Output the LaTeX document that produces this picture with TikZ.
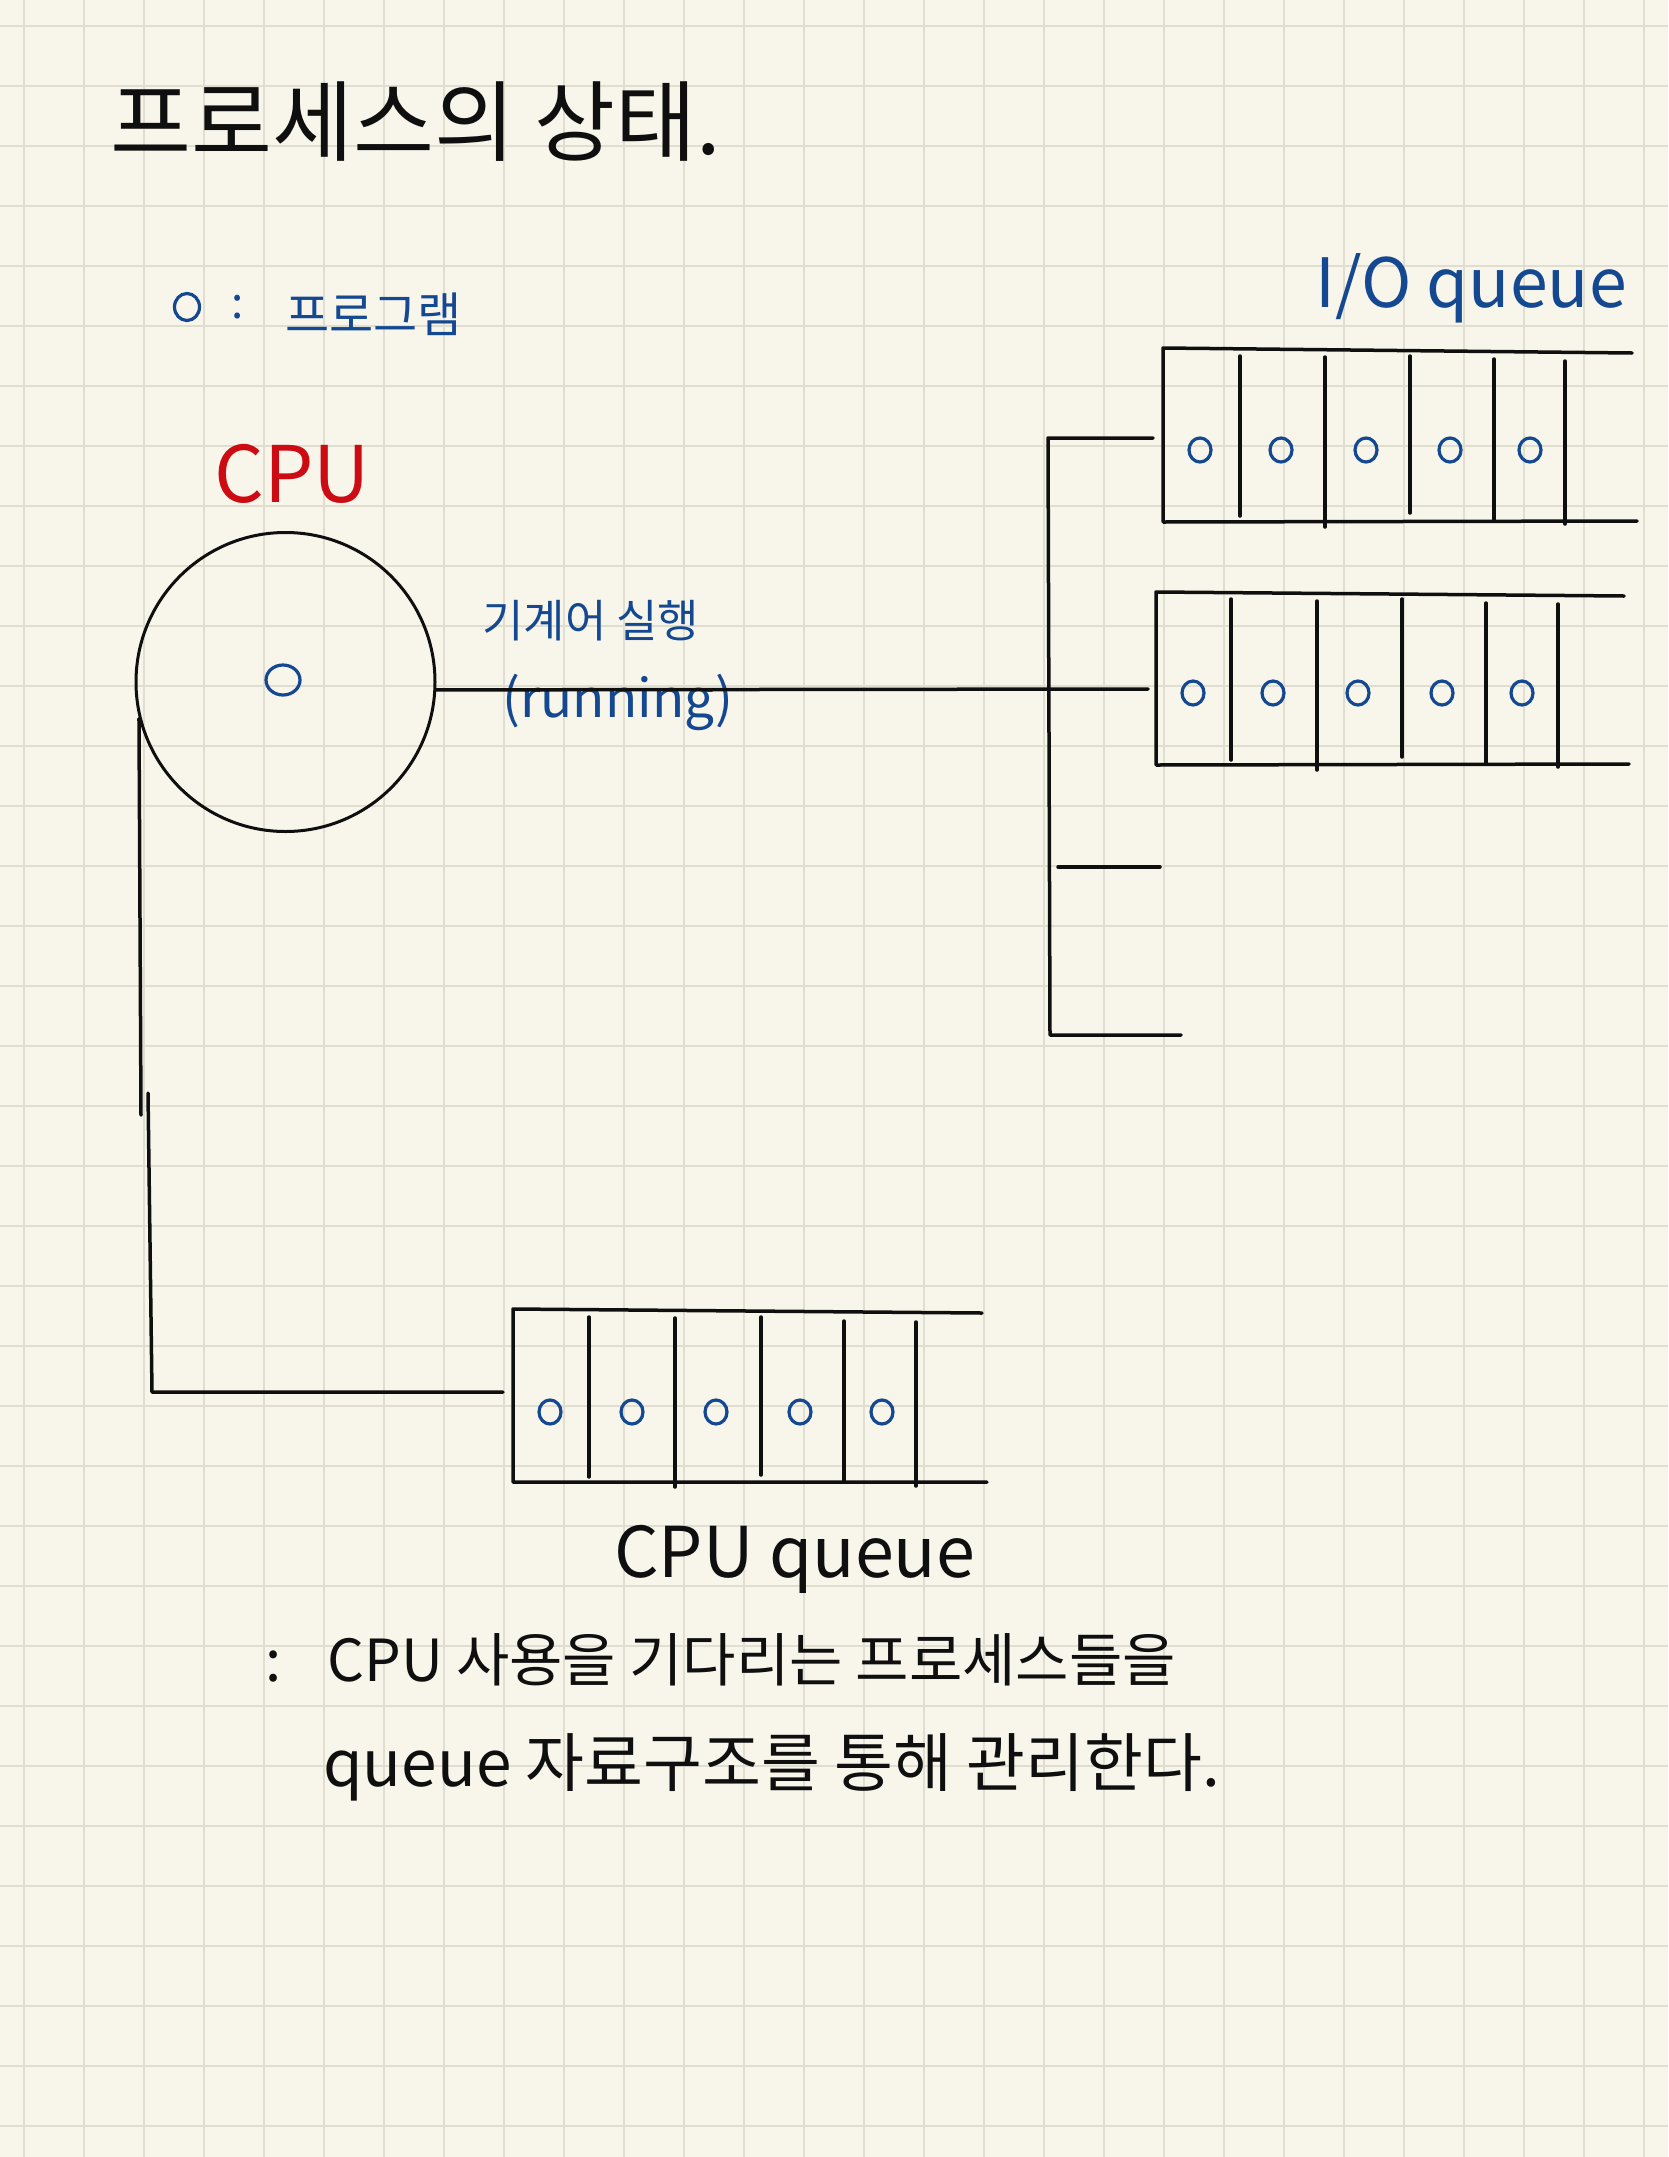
\documentclass[tikz,border=0pt]{standalone}
\usepackage{fontspec}
\setmainfont{Noto Sans CJK KR}
\usetikzlibrary{shapes.geometric}
\definecolor{paper}{RGB}{248,246,235}
\definecolor{gridc}{RGB}{224,221,209}
\definecolor{ink}{RGB}{15,15,15}
\definecolor{pen}{RGB}{20,72,145}
\definecolor{redpen}{RGB}{204,12,18}
\newcommand{\fs}[1]{\fontsize{#1pt}{#1pt}\selectfont}
\begin{document}
\begin{tikzpicture}[x=1pt,y=-1pt,line cap=round,line join=round,
  ln/.style={draw=ink,line width=3.5pt},
  proc/.style={ellipse,draw=pen,line width=3.2pt,minimum width=22pt,minimum height=24pt,inner sep=0pt},
  txt/.style={inner sep=0pt,anchor=west},
  btxt/.style={inner sep=0pt,anchor=base west}]
\fill[paper] (0,0) rectangle (1668,2157);
\useasboundingbox (0,0) rectangle (1668,2157);
\foreach \i in {0,...,27} \draw[gridc,line width=2pt,line cap=butt] ({24+60*\i},0) -- ({24+60*\i},2157);
\foreach \i in {0,...,35} \draw[gridc,line width=2pt,line cap=butt] (0,{26+60*\i}) -- (1668,{26+60*\i});

% title and legend
\node[txt,text=ink,font=\fs{88}] (title) at (110,122) {프로세스의 상태.};
\node[proc,minimum width=25pt,minimum height=27pt] (leg) at (187,307) {};
\node[inner sep=0pt,text=pen,font=\fs{44}] (colon) at (238,307) {:};
\node[txt,text=pen,font=\fs{48}] (legt) at (285,314) {프로그램};

% CPU
\node[inner sep=0pt,text=redpen,font=\fs{78}] (cpulab) at (292,474) {CPU};
\node[circle,draw=ink,line width=3pt,minimum size=299pt,inner sep=0pt] (cpu) at (285.5,682) {};
\node[proc,minimum width=34pt,minimum height=30pt] (cur) at (283,680) {};
\node[txt,text=pen,font=\fs{45}] (runk) at (482,621) {기계어 실행};
\node[btxt,text=pen,font=\fs{53}] (rune) at (502,717) {(running)};

% I/O queue label
\node[btxt,text=pen,font=\fs{68}] (iolab) at (1315,307) {I/O queue};

% I/O queue 1
\draw[ln] (1632,353) -- (1163,348) -- (1163,522) -- (1637,521);
\draw[ln] (1240,356) -- (1240,516) (1325,357) -- (1325,527) (1410,356) -- (1410,513)
          (1494,359) -- (1494,520) (1565,361) -- (1565,524);
\foreach \x/\n in {1200/a,1281/b,1366/c,1450/d,1530/e} \node[proc] (p1\n) at (\x,450) {};

% I/O queue 2
\draw[ln] (1624,596) -- (1156,592) -- (1156,765) -- (1629,764);
\draw[ln] (1231,599) -- (1231,760) (1317,601) -- (1317,770) (1402,599) -- (1402,757)
          (1486,603) -- (1486,763) (1558,604) -- (1558,767);
\foreach \x/\n in {1193/a,1273/b,1358/c,1442/d,1522/e} \node[proc] (p2\n) at (\x,693) {};

% CPU queue
\draw[ln] (982,1313) -- (513,1309) -- (513,1482) -- (987,1482);
\draw[ln] (589,1317) -- (589,1477) (675,1318) -- (675,1487) (761,1317) -- (761,1475)
          (844,1321) -- (844,1481) (916,1322) -- (916,1486);
\foreach \x/\n in {550/a,632/b,716/c,800/d,882/e} \node[proc] (p3\n) at (\x,1412) {};

% connectors
\coordinate (io1) at (1153,438);
\coordinate (io2) at (1148,689);
\coordinate (jt) at (1048,438);
\coordinate (jb) at (1050,1035);
\coordinate (io4) at (1181,1035);
\coordinate (s1) at (1058,867);
\coordinate (io3) at (1160,867);
\draw[ln] (io1) -- (jt) -- (jb) -- (io4);
\draw[ln] (s1) -- (io3);
\draw[ln] (cpu.-3) -- (io2);
\coordinate (d1) at (141,1115);
\coordinate (d2) at (148,1093);
\coordinate (d3) at (152,1392);
\coordinate (cqin) at (503,1392);
\draw[ln] (cpu.194) -- (d1);
\draw[ln] (d2) -- (d3) -- (cqin);

% bottom texts
\node[btxt,text=ink,font=\fs{70}] (cqlab) at (614,1577) {CPU queue};
\node[txt,text=ink,font=\fs{58}] (l1) at (265,1660) {:\hspace{0.8em}CPU 사용을 기다리는 프로세스들을};
\node[txt,text=ink,font=\fs{64}] (l2) at (323,1767) {queue 자료구조를 통해 관리한다.};
\end{tikzpicture}
\end{document}
